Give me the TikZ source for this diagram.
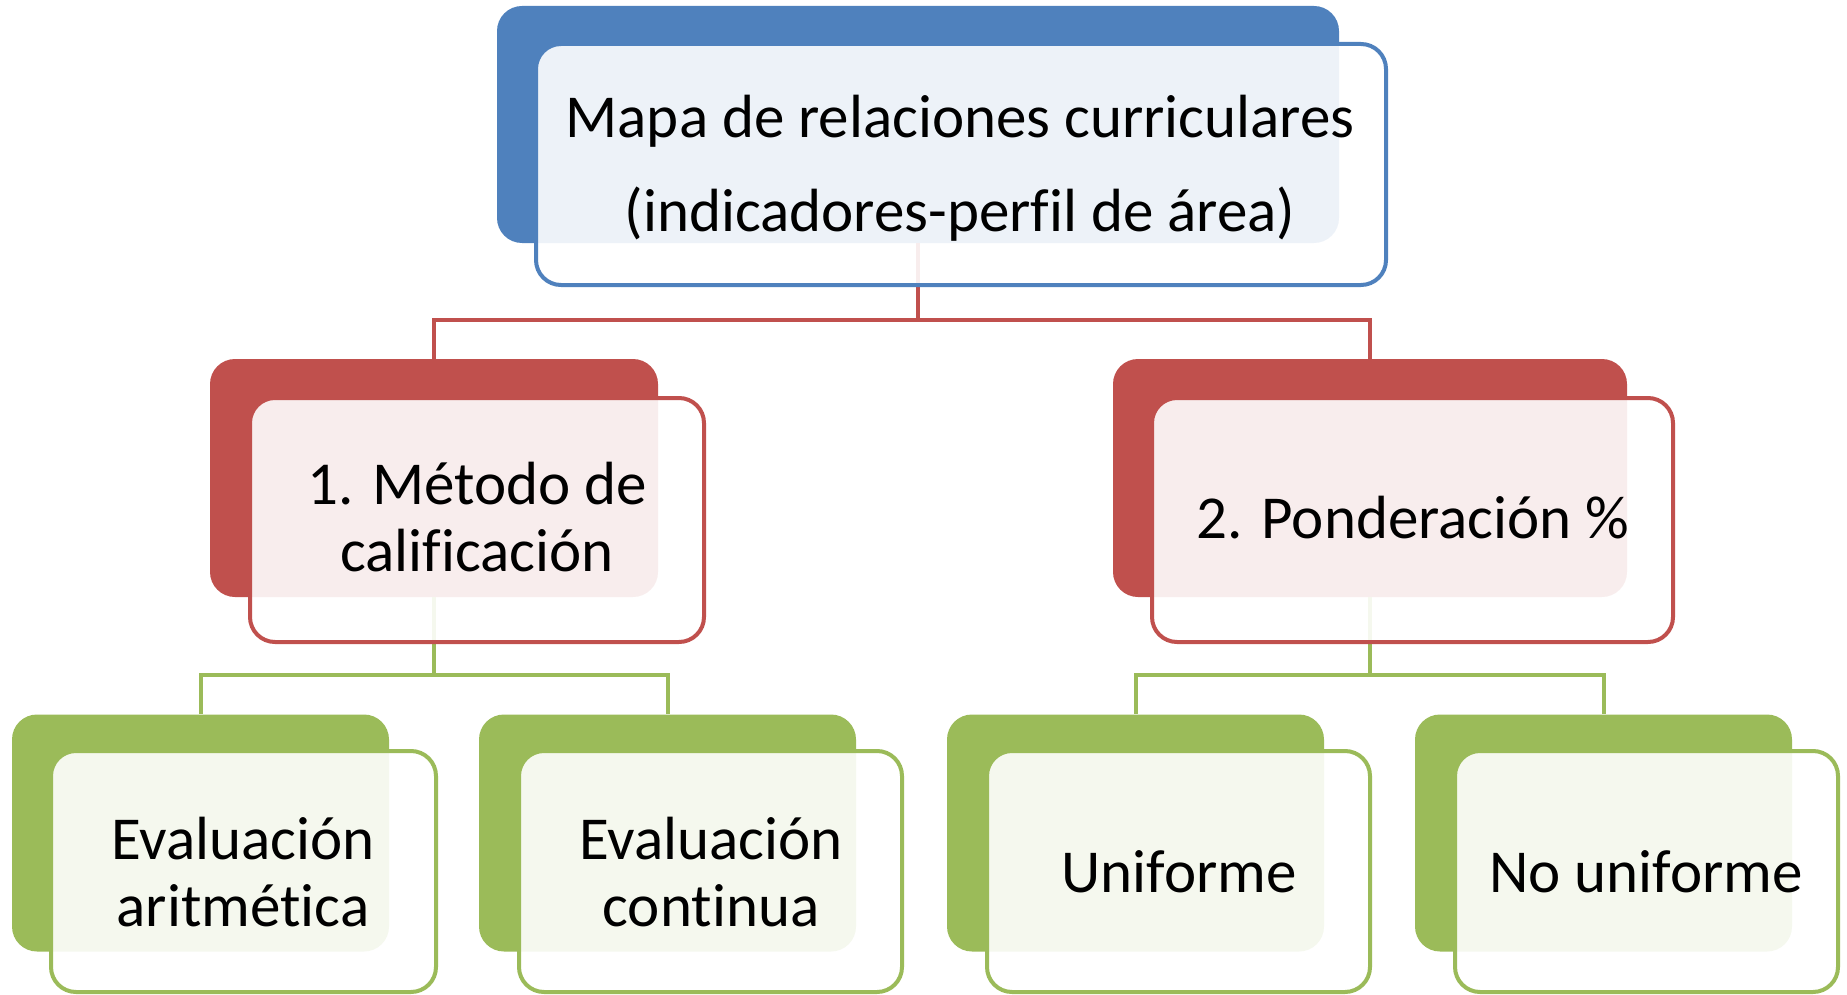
\documentclass[tikz,border=0pt]{standalone}
\usepackage{fontspec}
\setmainfont{Carlito}[Ligatures=NoCommon]
\definecolor{cblue}{HTML}{4F81BD}
\definecolor{cred}{HTML}{C0504D}
\definecolor{cgreen}{HTML}{9BBB59}
\tikzset{
  backbox/.style={rectangle, rounded corners=25pt, inner sep=0pt, draw=none},
  frontbox/.style={rectangle, rounded corners=25pt, inner sep=0pt, line width=4pt, fill=white, fill opacity=0.9},
  conn/.style={line width=4pt},
  lbl/.style={align=center, font=\fontsize{61}{67}\selectfont, text=black, inner sep=0pt}
}
\begin{document}
\begin{tikzpicture}[x=1pt,y=-1pt]
\useasboundingbox (0,0) rectangle (1847,995);
% back filled boxes
\node[backbox, fill=cblue, minimum width=842pt, minimum height=237pt] (topF) at (918,124.5) {};
\node[backbox, fill=cred, minimum width=448pt, minimum height=238pt] (r1F) at (434,478) {};
\node[backbox, fill=cred, minimum width=514pt, minimum height=238pt] (r2F) at (1370,478) {};
\node[backbox, fill=cgreen, minimum width=377pt, minimum height=237pt] (g1F) at (200.5,833) {};
\node[backbox, fill=cgreen, minimum width=377pt, minimum height=237pt] (g2F) at (667.5,833) {};
\node[backbox, fill=cgreen, minimum width=377pt, minimum height=237pt] (g3F) at (1135.5,833) {};
\node[backbox, fill=cgreen, minimum width=377pt, minimum height=237pt] (g4F) at (1603.5,833) {};
% connectors
\draw[conn, cred] (topF.south) -- (topF.south |- 0,320) -| (r1F.north);
\draw[conn, cred] (topF.south |- 0,320) -| (r2F.north);
\draw[conn, cgreen] (r1F.south) -- (r1F.south |- 0,675) -| (g1F.north);
\draw[conn, cgreen] (r1F.south |- 0,675) -| (g2F.north);
\draw[conn, cgreen] (r2F.south) -- (r2F.south |- 0,675) -| (g3F.north);
\draw[conn, cgreen] (r2F.south |- 0,675) -| (g4F.north);
% front outlined boxes
\node[frontbox, draw=cblue, minimum width=850pt, minimum height=241pt] (topO) at (961,164.5) {};
\node[frontbox, draw=cred, minimum width=454pt, minimum height=244pt] (r1O) at (477,520) {};
\node[frontbox, draw=cred, minimum width=521pt, minimum height=244pt] (r2O) at (1412.5,520) {};
\node[frontbox, draw=cgreen, minimum width=385pt, minimum height=241pt] (g1O) at (243.5,871.5) {};
\node[frontbox, draw=cgreen, minimum width=383pt, minimum height=241pt] (g2O) at (710.5,871.5) {};
\node[frontbox, draw=cgreen, minimum width=383pt, minimum height=241pt] (g3O) at (1178.5,871.5) {};
\node[frontbox, draw=cgreen, minimum width=383pt, minimum height=241pt] (g4O) at (1646.5,871.5) {};
% labels
\node[lbl, font=\fontsize{61}{94}\selectfont] (tTop) at (960,168) {Mapa de relaciones curriculares\\(indicadores-perfil de área)};
\node[lbl] (tR1) at (477,517) {1. Método de\\calificación};
\node[lbl] (tR2) at (1413,518) {2. Ponderación \%};
\node[lbl] (tG1) at (243,872) {Evaluación\\aritmética};
\node[lbl] (tG2) at (711,872) {Evaluación\\continua};
\node[lbl] (tG3) at (1179,872) {Uniforme};
\node[lbl] (tG4) at (1646,872) {No uniforme};
\end{tikzpicture}
\end{document}
